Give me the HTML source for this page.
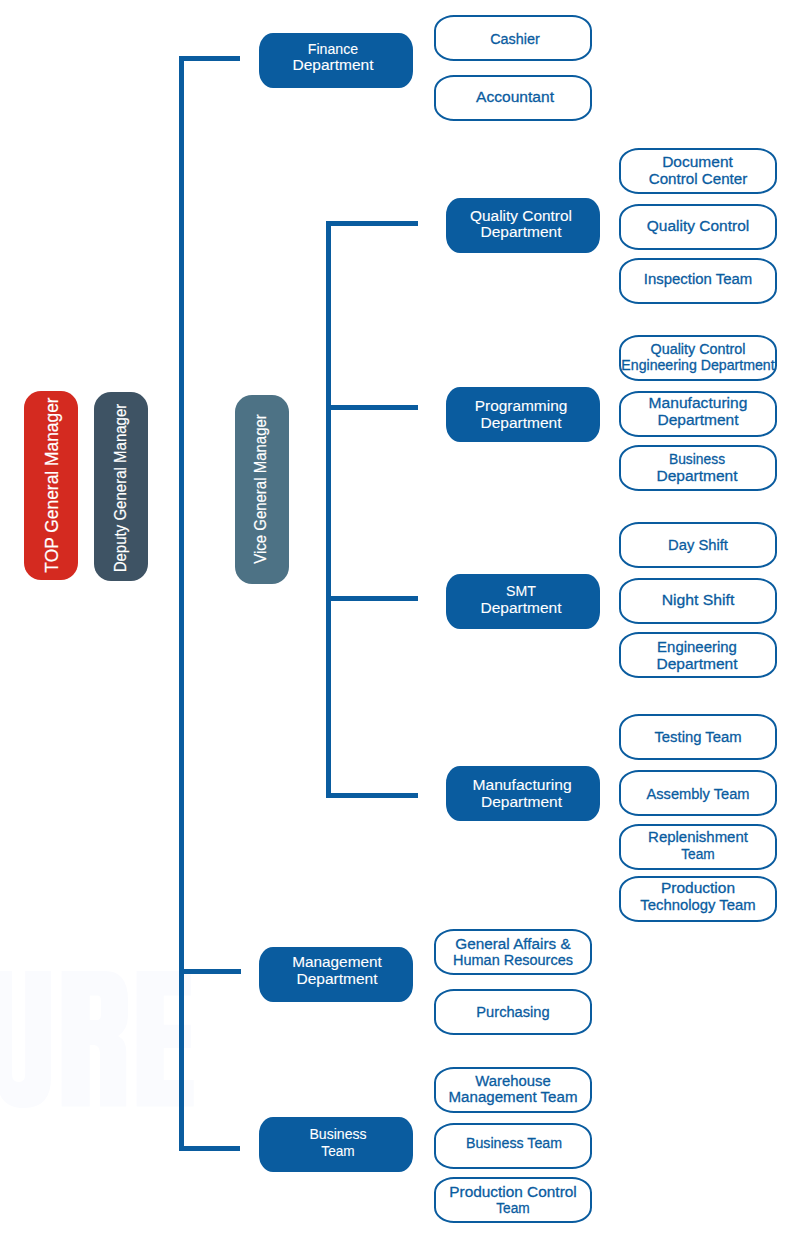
<!DOCTYPE html>
<html><head><meta charset="utf-8"><style>
html,body{margin:0;padding:0;background:#fff;}
body{width:800px;height:1233px;position:relative;overflow:hidden;font-family:"Liberation Sans",sans-serif;}
.l{position:absolute;background:#0a5c9f;}
.f{position:absolute;width:154px;height:55px;background:#0a5c9f;color:#fff;border-radius:14px/17px;}
.o{position:absolute;width:154px;height:42px;border:2px solid #0a5c9f;background:#fff;color:#0a5c9f;border-radius:20px/15.5px;}
.f span,.o span{position:absolute;left:0;right:0;top:50%;text-align:center;white-space:nowrap;font-size:15.5px;-webkit-text-stroke:0.3px currentColor;}
.o.sm span{font-size:14.2px;}
.f span{-webkit-text-stroke:0.1px #fff;}
.p{position:absolute;border-radius:17px;}
.p span{position:absolute;white-space:nowrap;color:#fff;line-height:1;-webkit-text-stroke:0.2px #fff;}
.wm{position:absolute;left:0;top:0;}
</style></head><body>
<svg class="wm" width="800" height="1233" viewBox="0 0 800 1233"><path fill="#fafbfe" fill-rule="evenodd" d="M-3 971H12V1074Q12 1082 18.6 1082Q25.2 1082 25.2 1074V971H51V1078Q51 1108 24 1108Q-3 1108 -3 1078Z M61.6 971H105Q128 971 128 1000V1015Q128 1030 118 1036Q126.3 1040 126.3 1052V1106.5H100V1055Q100 1045 94 1045H89.7V1106.5H61.6Z M89.7 995.6H97Q100.9 995.6 100.9 1000V1015Q100.9 1020 97 1020H89.7Z M136.6 971H191V995.6H163.75V1024.7H191V1048H163.75V1080H193.75V1106.5H136.6Z"/></svg>
<div class="l" style="left:179px;top:56px;width:5px;height:1095px"></div>
<div class="l" style="left:179px;top:56px;width:61px;height:5px"></div>
<div class="l" style="left:179px;top:969px;width:62px;height:5px"></div>
<div class="l" style="left:179px;top:1146px;width:61px;height:5px"></div>
<div class="l" style="left:326px;top:221px;width:5px;height:577px"></div>
<div class="l" style="left:326px;top:221px;width:92px;height:5px"></div>
<div class="l" style="left:326px;top:405px;width:92px;height:5px"></div>
<div class="l" style="left:326px;top:596px;width:92px;height:5px"></div>
<div class="l" style="left:326px;top:793px;width:92px;height:5px"></div>
<div class="f" style="left:259px;top:33px"><span style="line-height:16.1px;top:7.50px;left:-3px;right:3px"><div style="transform:scaleX(0.912)">Finance</div><div>Department</div></span></div>
<div class="f" style="left:259px;top:947px"><span style="line-height:16.8px;top:7.10px;left:1px;right:-1px"><div style="transform:scaleX(0.99)">Management</div><div>Department</div></span></div>
<div class="f" style="left:259px;top:1117px"><span style="line-height:17.3px;top:7.90px;left:1.5px;right:-1.5px"><div style="transform:scaleX(0.908)">Business</div><div style="transform:scaleX(0.879)">Team</div></span></div>
<div class="f" style="left:446px;top:198px"><span style="line-height:16.7px;top:9.70px;left:-2px;right:2px"><div style="transform:scaleX(0.995)">Quality Control</div><div>Department</div></span></div>
<div class="f" style="left:446px;top:387px"><span style="line-height:17.2px;top:10.05px;left:-2px;right:2px"><div style="transform:scaleX(0.995)">Programming</div><div>Department</div></span></div>
<div class="f" style="left:446px;top:574px"><span style="line-height:16.3px;top:9.30px;left:-2px;right:2px"><div style="transform:scaleX(0.914)">SMT</div><div>Department</div></span></div>
<div class="f" style="left:446px;top:766px"><span style="line-height:17px;top:9.85px;left:-1.5px;right:1.5px"><div style="transform:scaleX(1.01)">Manufacturing</div><div>Department</div></span></div>
<div class="o " style="left:434px;top:15.00px"><span style="line-height:17px;top:12.85px;left:2.4px;right:-2.4px"><div style="transform:scaleX(0.927)">Cashier</div></span></div>
<div class="o " style="left:434px;top:75.00px"><span style="line-height:17px;top:10.75px;left:2.1px;right:-2.1px"><div style="transform:scaleX(1.005)">Accountant</div></span></div>
<div class="o " style="left:434px;top:928.80px"><span style="line-height:15.9px;top:4.80px;left:0.3px;right:-0.3px"><div style="transform:scaleX(0.987)">General Affairs &amp;</div><div style="transform:scaleX(0.935)">Human Resources</div></span></div>
<div class="o " style="left:434px;top:989.10px"><span style="line-height:17px;top:11.65px;left:0.4px;right:-0.4px"><div style="transform:scaleX(0.946)">Purchasing</div></span></div>
<div class="o " style="left:434px;top:1066.70px"><span style="line-height:16px;top:3.90px;left:-0.3px;right:0.3px"><div style="transform:scaleX(0.958)">Warehouse</div><div style="transform:scaleX(0.974)">Management Team</div></span></div>
<div class="o " style="left:434px;top:1122.85px"><span style="line-height:17px;top:9.10px;left:0.7px;right:-0.7px"><div style="transform:scaleX(0.916)">Business Team</div></span></div>
<div class="o " style="left:434px;top:1176.70px"><span style="line-height:15.6px;top:5.25px;left:0.25px;right:-0.25px"><div style="transform:scaleX(0.993)">Production Control</div><div style="transform:scaleX(0.884)">Team</div></span></div>
<div class="o " style="left:619px;top:147.90px"><span style="line-height:16.8px;top:4.20px;left:-0.5px;right:0.5px"><div>Document</div><div style="transform:scaleX(0.978)">Control Center</div></span></div>
<div class="o " style="left:619px;top:203.70px"><span style="line-height:17px;top:11.30px;left:0px;right:0px"><div style="transform:scaleX(0.999)">Quality Control</div></span></div>
<div class="o " style="left:619px;top:257.90px"><span style="line-height:17px;top:10.40px;left:0px;right:0px"><div style="transform:scaleX(0.963)">Inspection Team</div></span></div>
<div class="o sm" style="left:619px;top:334.95px"><span style="line-height:16px;top:4.45px;left:0px;right:0px"><div style="transform:scaleX(1.012)">Quality Control</div><div style="transform:scaleX(0.997)">Engineering Department</div></span></div>
<div class="o " style="left:619px;top:390.90px"><span style="line-height:16.6px;top:2.50px;left:0px;right:0px"><div style="transform:scaleX(1.006)">Manufacturing</div><div style="transform:scaleX(1.002)">Department</div></span></div>
<div class="o " style="left:619px;top:445.00px"><span style="line-height:17px;top:3.00px;left:-1px;right:1px"><div style="transform:scaleX(0.892)">Business</div><div style="transform:scaleX(1.002)">Department</div></span></div>
<div class="o " style="left:619px;top:522.20px"><span style="line-height:17px;top:11.70px;left:0px;right:0px"><div style="transform:scaleX(0.952)">Day Shift</div></span></div>
<div class="o " style="left:619px;top:577.80px"><span style="line-height:17px;top:11.00px;left:0px;right:0px"><div style="transform:scaleX(1.017)">Night Shift</div></span></div>
<div class="o " style="left:619px;top:632.00px"><span style="line-height:17px;top:3.50px;left:-1px;right:1px"><div style="transform:scaleX(0.964)">Engineering</div><div style="transform:scaleX(1.002)">Department</div></span></div>
<div class="o " style="left:619px;top:713.90px"><span style="line-height:17px;top:12.25px;left:0px;right:0px"><div style="transform:scaleX(0.957)">Testing Team</div></span></div>
<div class="o " style="left:619px;top:770.00px"><span style="line-height:17px;top:12.70px;left:0px;right:0px"><div style="transform:scaleX(0.943)">Assembly Team</div></span></div>
<div class="o " style="left:619px;top:823.90px"><span style="line-height:17px;top:2.20px;left:0px;right:0px"><div style="transform:scaleX(0.965)">Replenishment</div><div style="transform:scaleX(0.884)">Team</div></span></div>
<div class="o " style="left:619px;top:876.00px"><span style="line-height:17px;top:1.30px;left:0px;right:0px"><div style="transform:scaleX(0.999)">Production</div><div style="transform:scaleX(0.958)">Technology Team</div></span></div>
<div class="p" style="left:24px;top:391px;width:54px;height:189px;background:#d42a20"><span style="font-size:18.8px;left:27.5px;top:93.80000000000001px;transform:translate(-50%,-50%) rotate(-90deg) scaleX(0.926)">TOP General Manager</span></div>
<div class="p" style="left:94px;top:392px;width:54px;height:189px;background:#3e5364"><span style="font-size:16.7px;left:26.549999999999997px;top:95.5px;transform:translate(-50%,-50%) rotate(-90deg) scaleX(0.9)">Deputy General Manager</span></div>
<div class="p" style="left:235px;top:395px;width:54px;height:189px;background:#4d7285"><span style="font-size:16.2px;left:25.100000000000023px;top:94px;transform:translate(-50%,-50%) rotate(-90deg) scaleX(0.925)">Vice General Manager</span></div>
</body></html>
